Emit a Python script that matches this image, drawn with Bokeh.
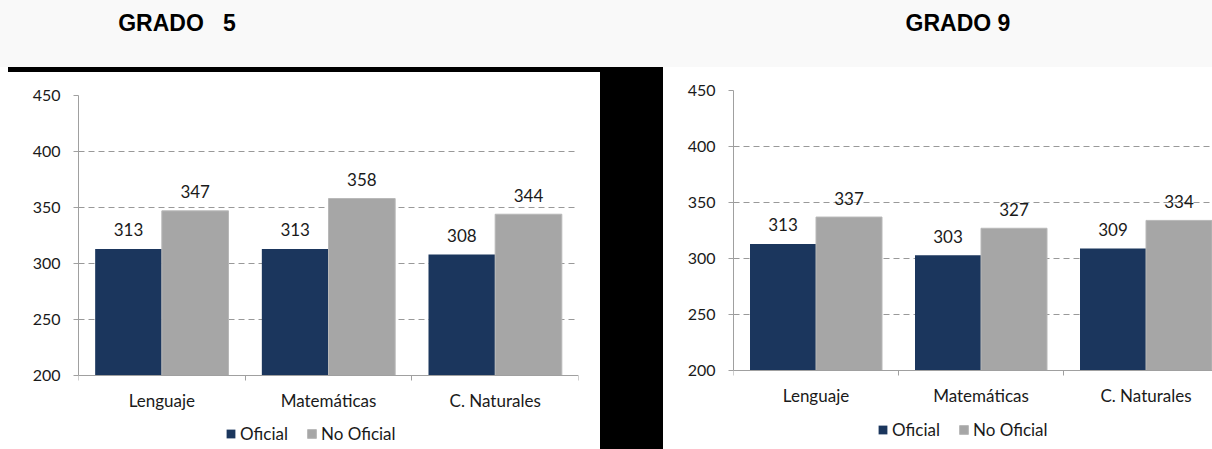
import numpy as np
from bokeh.plotting import figure
from bokeh.models import Range1d, FixedTicker, Legend, LegendItem, ColumnDataSource, Div
from bokeh.layouts import row, column
from bokeh.core.properties import value
from bokeh.embed import file_html
from bokeh.resources import INLINE

# ---- data ----
categories = ["Lenguaje", "Matemáticas", "C. Naturales"]
g5_oficial = [313, 313, 308]
g5_no_oficial = [347, 358, 344]
g9_oficial = [313, 303, 309]
g9_no_oficial = [337, 327, 334]
y_ticks = [200, 250, 300, 350, 400, 450]
series_names = ["Oficial", "No Oficial"]
titles = ["GRADO   5", "GRADO 9"]

NAVY = "#1b365d"
GRAY = "#a6a6a6"
AXIS = "#a0a0a0"
TXT = "#1a1a1a"
FONT = "Lato"


def make_chart(off, nooff, width, height, mb, x_end, y_start, legend_loc):
    idx = np.arange(len(categories))
    src = ColumnDataSource(dict(
        x_off=idx - 0.2, x_no=idx + 0.2,
        off=off, no=nooff,
        off_lbl=[str(v) for v in off], no_lbl=[str(v) for v in nooff],
    ))
    # the frame extends below the value axis so the category labels and legend fit inside it
    p = figure(width=width, height=height,
               x_range=Range1d(-0.5, x_end), y_range=Range1d(y_start, y_ticks[-1]),
               output_backend="svg", toolbar_location=None,
               min_border_left=mb[0], min_border_right=mb[1],
               min_border_top=mb[2], min_border_bottom=mb[3])
    p.outline_line_color = None
    p.background_fill_color = "white"
    p.border_fill_color = "white"

    r1 = p.vbar(x="x_off", top="off", bottom=y_ticks[0], width=0.4, source=src,
                fill_color=NAVY, line_color=None)
    r2 = p.vbar(x="x_no", top="no", bottom=y_ticks[0], width=0.4, source=src,
                fill_color=GRAY, line_color="#b8b8b8", line_width=1)
    for xc, yc, lc in (("x_off", "off", "off_lbl"), ("x_no", "no", "no_lbl")):
        p.text(x=xc, y=yc, text=lc, source=src, y_offset=-19,
               text_align="center", text_baseline="middle",
               text_font=value(FONT), text_font_size="17px", text_color=TXT)

    # x axis, drawn at the 200 baseline inside the frame
    p.xaxis.fixed_location = y_ticks[0]
    p.xaxis.ticker = FixedTicker(ticks=list(idx), minor_ticks=[i - 0.5 for i in range(len(categories) + 1)])
    p.xaxis.major_label_overrides = {int(i): c for i, c in zip(idx, categories)}
    p.xaxis.major_tick_out = 0
    p.xaxis.major_tick_in = 0
    p.xaxis.minor_tick_out = 5
    p.xaxis.minor_tick_in = 0
    p.xaxis.minor_tick_line_color = AXIS
    p.xaxis.axis_line_color = AXIS
    p.xaxis.major_label_standoff = 9
    p.xaxis.major_label_text_font = FONT
    p.xaxis.major_label_text_font_size = "17px"
    p.xaxis.major_label_text_color = TXT

    # y axis
    p.yaxis.ticker = FixedTicker(ticks=y_ticks)
    p.yaxis.bounds = (y_ticks[0], y_ticks[-1])
    p.yaxis.major_tick_out = 5
    p.yaxis.major_tick_in = 0
    p.yaxis.minor_tick_out = 0
    p.yaxis.minor_tick_in = 0
    p.yaxis.major_tick_line_color = AXIS
    p.yaxis.axis_line_color = AXIS
    p.yaxis.major_label_standoff = 13
    p.yaxis.major_label_text_font = FONT
    p.yaxis.major_label_text_font_size = "16px"
    p.yaxis.major_label_text_color = TXT

    p.xgrid.visible = False
    p.ygrid.ticker = FixedTicker(ticks=y_ticks)
    p.ygrid.grid_line_color = "#999999"
    p.ygrid.grid_line_dash = "6 4"
    p.ygrid.grid_line_width = 1

    legend = Legend(items=[LegendItem(label=series_names[0], renderers=[r1]),
                           LegendItem(label=series_names[1], renderers=[r2])],
                    location=legend_loc, orientation="horizontal",
                    glyph_width=11, glyph_height=11, label_standoff=4, spacing=18,
                    padding=0, margin=0, border_line_color=None, background_fill_alpha=0,
                    label_text_font=FONT, label_text_font_size="17px", label_text_color=TXT)
    p.add_layout(legend)
    return p


# left chart: page x 8..600, y 72..449 ; value frame x 78..578, y 95..375 (1.12 px per unit)
p1 = make_chart(g5_oficial, g5_no_oficial, 592, 377, (70, 22, 23, 0), 2.5, 450 - 354 / 1.12, (147, 5))
# right chart: page x 663..1212, y 67..449 ; value frame x 733..1212, y 90..370
p2 = make_chart(g9_oficial, g9_no_oficial, 549, 382, (70, 0, 23, 0), -0.5 + 479 / 165, 450 - 359 / 1.12, (144, 9))

title_html = (
    '<div style="position:relative;width:1212px;height:67px;'
    "font-family:'Liberation Sans',Arial,sans-serif;font-weight:bold;font-size:23px;color:#000;\">"
    f'<span style="position:absolute;left:177px;top:23px;transform:translate(-50%,-50%);white-space:pre;">{titles[0]}</span>'
    f'<span style="position:absolute;left:958px;top:23px;transform:translate(-50%,-50%);white-space:pre;">{titles[1]}</span>'
    '</div>'
)
top = Div(text=title_html, width=1212, height=67, margin=0,
          styles={"background-color": "#f9f9f9"})
spacer = Div(text="", width=8, height=382, margin=0, styles={"background-color": "white"})
band = Div(text="", width=655, height=5, margin=0, styles={"background-color": "black"})
black_side = Div(text="", width=63, height=377, margin=0, styles={"background-color": "black"})

layout = column(top,
                row(spacer, column(band, row(p1, black_side, spacing=0), spacing=0), p2, spacing=0),
                spacing=0)

open("out.html", "w").write(file_html(layout, INLINE))
